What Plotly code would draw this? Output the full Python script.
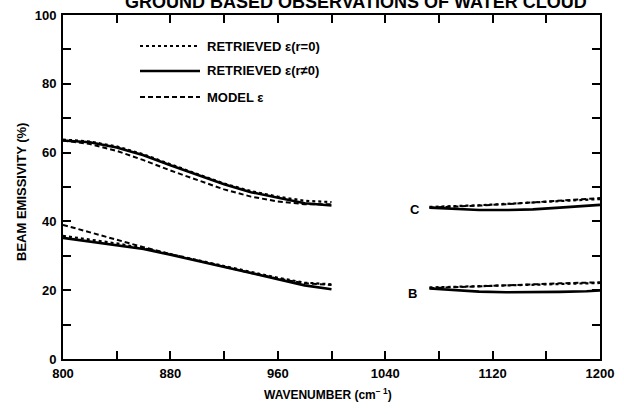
import plotly.graph_objects as go

# ---- data ----
wn_left = [800, 820, 840, 860, 880, 900, 920, 940, 960, 980, 1000]
wn_right = [1073, 1090, 1110, 1130, 1150, 1170, 1190, 1200]

# cloud C (upper curves)
c_dotted_left = [63.8, 63.2, 61.8, 59.5, 56.6, 53.8, 51.0, 48.8, 47.2, 46.0, 45.6]
c_solid_left = [63.5, 63.0, 61.5, 59.2, 56.3, 53.5, 50.8, 48.5, 46.8, 45.3, 44.6]
c_model_left = [63.5, 62.5, 60.5, 57.8, 54.8, 52.0, 49.3, 47.2, 45.8, 45.0, 45.0]
c_dotted_right = [44.2, 44.4, 44.7, 45.1, 45.5, 45.9, 46.3, 46.5]
c_solid_right = [44.0, 43.6, 43.3, 43.3, 43.5, 44.0, 44.5, 44.8]
c_model_right = [44.0, 44.2, 44.6, 45.0, 45.5, 46.0, 46.5, 46.8]

# cloud B (lower curves)
b_dotted_left = [35.8, 34.8, 33.6, 32.2, 30.5, 28.8, 27.0, 25.2, 23.6, 22.2, 21.7]
b_solid_left = [35.2, 34.2, 33.2, 32.0, 30.3, 28.6, 26.8, 25.0, 23.2, 21.4, 20.3]
b_model_left = [39.0, 36.8, 34.6, 32.5, 30.5, 28.6, 26.8, 25.0, 23.4, 22.0, 21.5]
b_dotted_right = [20.8, 21.0, 21.2, 21.4, 21.6, 21.8, 22.0, 22.1]
b_solid_right = [20.5, 20.0, 19.6, 19.4, 19.4, 19.5, 19.7, 19.9]
b_model_right = [20.6, 20.8, 21.1, 21.4, 21.7, 22.0, 22.2, 22.3]

x_ticks = [800, 840, 880, 920, 960, 1000, 1040, 1080, 1120, 1160, 1200]
x_labels = ["800", "", "880", "", "960", "", "1040", "", "1120", "", "1200"]
y_ticks = [0, 10, 20, 30, 40, 50, 60, 70, 80, 90, 100]
y_labels = ["0", "", "20", "", "40", "", "60", "", "80", "", "100"]

legend_names = ["RETRIEVED ε(r=0)", "RETRIEVED ε(r≠0)", "MODEL ε"]
title_text = "GROUND BASED OBSERVATIONS OF WATER CLOUD"

FONT = "Liberation Sans, Arial, sans-serif"

styles = {
    "dotted": dict(color="black", width=2.2, dash="dot"),
    "solid": dict(color="black", width=2.6, dash="solid"),
    "model": dict(color="black", width=2.0, dash="5px,3px"),
}

fig = go.Figure()
series = [
    ("dotted", wn_left, c_dotted_left), ("dotted", wn_right, c_dotted_right),
    ("dotted", wn_left, b_dotted_left), ("dotted", wn_right, b_dotted_right),
    ("model", wn_left, c_model_left), ("model", wn_right, c_model_right),
    ("model", wn_left, b_model_left), ("model", wn_right, b_model_right),
    ("solid", wn_left, c_solid_left), ("solid", wn_right, c_solid_right),
    ("solid", wn_left, b_solid_left), ("solid", wn_right, b_solid_right),
]
for key, xs, ys in series:
    fig.add_trace(go.Scatter(x=xs, y=ys, mode="lines", line=styles[key],
                             showlegend=False, hoverinfo="skip"))

# ---- manual legend ----
L, R, T, B = 63, 24, 15, 55
W, H = 624 - L - R, 414 - T - B

def px_x(p):
    return (p - L) / W

def px_y(p):
    return (414 - B - p) / H

leg_rows = [46, 71, 97]
for name, key, yrow in zip(legend_names, ["dotted", "solid", "model"], leg_rows):
    fig.add_shape(type="line", xref="paper", yref="paper",
                  x0=px_x(140), x1=px_x(200), y0=px_y(yrow), y1=px_y(yrow),
                  line=styles[key])
    fig.add_annotation(xref="paper", yref="paper", x=px_x(205), y=px_y(yrow),
                       text=name, showarrow=False, xanchor="left", yanchor="middle",
                       font=dict(family=FONT, size=13, color="black", weight="bold"))

# curve labels
fig.add_annotation(x=1062, y=43.6, text="C", showarrow=False,
                   font=dict(family=FONT, size=13, color="black", weight="bold"))
fig.add_annotation(x=1060, y=18.9, text="B", showarrow=False,
                   font=dict(family=FONT, size=13, color="black", weight="bold"))

# title (partly cut off at top, as in the original)
fig.add_annotation(xref="paper", yref="paper", x=px_x(356), y=px_y(1.5),
                   text=title_text, showarrow=False, xanchor="center", yanchor="middle",
                   font=dict(family=FONT, size=18, color="black", weight="bold"))

# axis titles
fig.add_annotation(xref="paper", yref="paper", x=px_x(21), y=px_y(192),
                   text="BEAM EMISSIVITY (%)", showarrow=False, textangle=-90,
                   xanchor="center", yanchor="middle",
                   font=dict(family=FONT, size=13, color="black", weight="bold"))
fig.add_annotation(xref="paper", yref="paper", x=px_x(328), y=px_y(394),
                   text="WAVENUMBER (cm<sup>− 1</sup>)", showarrow=False,
                   xanchor="center", yanchor="middle",
                   font=dict(family=FONT, size=12, color="black", weight="bold"))

axis_common = dict(
    showgrid=False, zeroline=False, showline=True, linecolor="black", linewidth=2,
    mirror="ticks", ticks="inside", ticklen=8, tickwidth=2, tickcolor="black",
    tickfont=dict(family=FONT, size=13, color="black", weight="bold"),
)
fig.update_xaxes(range=[800, 1200], tickmode="array", tickvals=x_ticks,
                 ticktext=x_labels, ticklabelstandoff=1, **axis_common)
fig.update_yaxes(range=[0, 100], tickmode="array", tickvals=y_ticks,
                 ticktext=y_labels, ticklabelstandoff=2, **axis_common)

fig.update_layout(
    width=624, height=414,
    margin=dict(l=L, r=R, t=T, b=B, autoexpand=False),
    plot_bgcolor="white", paper_bgcolor="white",
    showlegend=False,
)

fig.write_html("out.html")
